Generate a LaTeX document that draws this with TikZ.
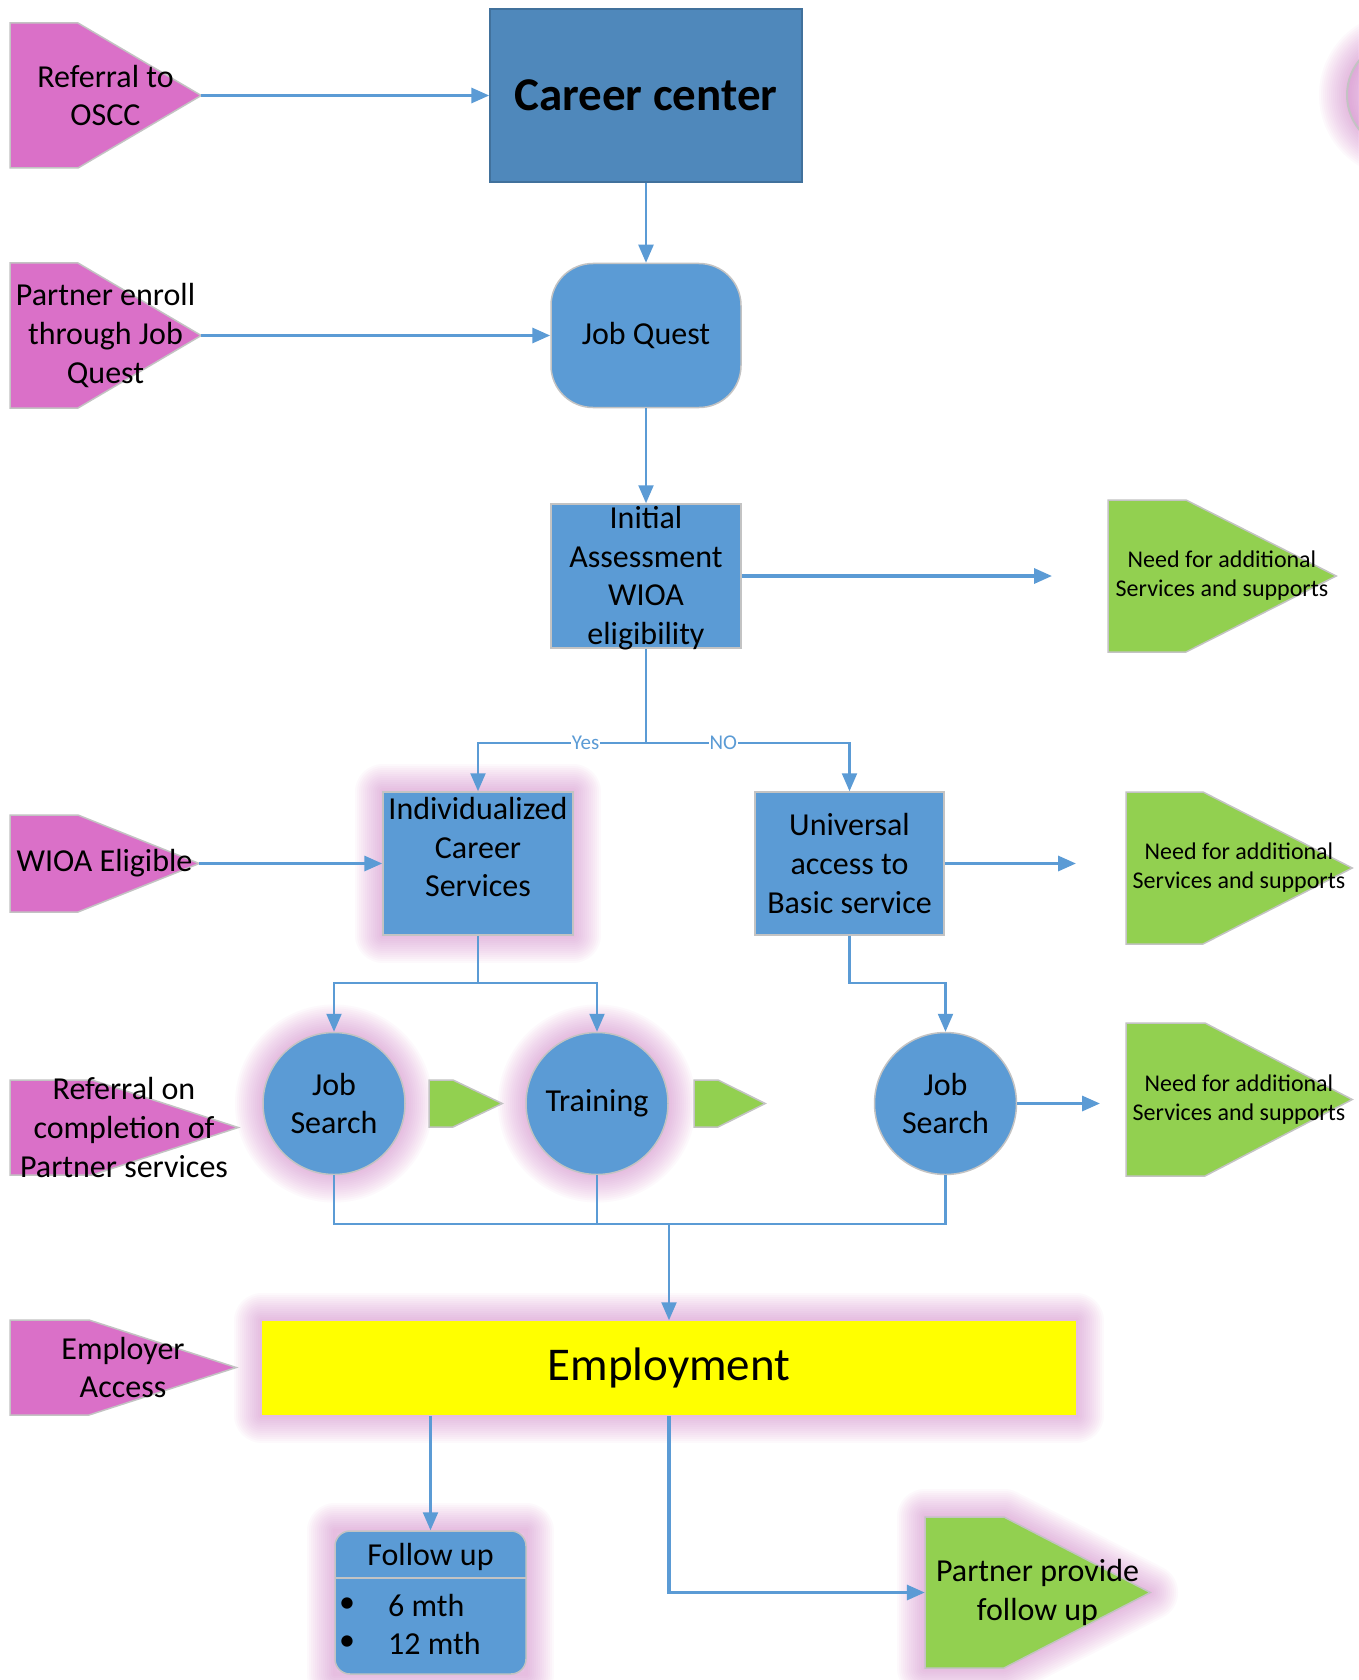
\documentclass[tikz,border=0pt]{standalone}
\usepackage{fontspec}
\setmainfont{Carlito}
\usetikzlibrary{arrows.meta,calc}

\definecolor{cblue}{RGB}{91,155,213}
\definecolor{cdark}{RGB}{79,136,187}
\definecolor{cdarkline}{RGB}{65,113,156}
\definecolor{cpink}{RGB}{218,112,200}
\definecolor{cgreen}{RGB}{146,208,80}
\definecolor{cyell}{RGB}{255,255,0}
\definecolor{cglow}{RGB}{210,125,200}
\definecolor{cedge}{RGB}{195,195,195}

\pgfdeclarelayer{backlayer}
\pgfdeclarelayer{glowlayer}
\pgfdeclarelayer{shapelayer}
\pgfsetlayers{backlayer,glowlayer,shapelayer,main}

\newcommand\fsN{\fontsize{32}{38.6}\selectfont}
\newcommand\fsS{\fontsize{24}{29}\selectfont}
\newcommand\fsY{\fontsize{21}{25}\selectfont}
\newcommand\fsBig{\fontsize{47}{56}\selectfont}

\tikzset{
  box/.style={draw=cedge, line width=1.5pt, fill=cblue, inner sep=0pt, align=center, font=\fsN},
  txt/.style={inner sep=0pt, align=center, font=\fsN},
  pentnode/.style={inner sep=0pt, align=center, font=\fsN},
  circ/.style={circle, draw=cedge, line width=1.5pt, fill=cblue, inner sep=0pt, minimum size=142pt, align=center, font=\fsN},
  conn/.style={draw=cblue, line width=2.2pt},
  arr/.style={conn, -{Triangle[length=18pt,width=15pt]}},
  thickarr/.style={arr, line width=3.2pt},
  ynlabel/.style={fill=white, inner sep=1pt, text=cblue, font=\fsY},
}

% glow around a path
\newcommand\glowpath[1]{%
  \begin{pgfonlayer}{glowlayer}
    \foreach \w in {4,8,...,56}{\draw[cglow, draw opacity=0.045, line width=\w pt, line join=round] #1;}
  \end{pgfonlayer}}

% pentagon: name, x1, y1, x2, y2, offset, fill, text, font
\newcommand\pent[9]{%
  \node[pentnode, font=#9, minimum width={(#4-#2)*1pt}, minimum height={(#5-#3)*1pt}] (#1) at ({(#2+#4)/2},{(#3+#5)/2}) {#8};
  \begin{pgfonlayer}{shapelayer}
    \filldraw[fill=#7, draw=cedge, line width=1.5pt, line join=miter] (#2,#3) -- (#2+#6,#3) -- (#1.east) -- (#2+#6,#5) -- (#2,#5) -- cycle;
  \end{pgfonlayer}}

\begin{document}
\begin{tikzpicture}[x=1pt,y=-1pt]
\begin{pgfonlayer}{backlayer}
  \fill[white] (0,0) rectangle (1358,1680);
\end{pgfonlayer}
\useasboundingbox (0,0) rectangle (1358,1680);

% glows
\glowpath{(383,792) rectangle (573,935)}
\glowpath{(334,1103.5) circle[radius=71pt]}
\glowpath{(597,1103.5) circle[radius=71pt]}
\glowpath{(262,1321) rectangle (1076,1415)}
\glowpath{(335,1531) rectangle (526,1674)}
\glowpath{(925,1517) -- (1004,1517) -- (1150,1592.5) -- (1004,1668) -- (925,1668) -- cycle}
\glowpath{(1402,95) circle[radius=55pt]}
\begin{pgfonlayer}{glowlayer}
  \fill[cglow, opacity=0.3] (1402,95) circle[radius=55pt];
\end{pgfonlayer}
\draw[cedge, line width=2pt] (1402,95) circle[radius=55pt];

% main boxes
\node[box, fill=cdark, draw=cdarkline, minimum width=312pt, minimum height=173pt, font=\fsBig\bfseries] (career) at (646,95.5) {Career center};
\node[box, rounded corners=42pt, minimum width=190pt, minimum height=144pt] (jq) at (646,335.5) {Job Quest};
\node[box, minimum width=190pt, minimum height=144pt] (ia) at (646,576) {};
\node[txt] (iaT) at (646,578) {Initial\\Assessment\\WIOA\\eligibility};
\node[box, minimum width=190pt, minimum height=143pt] (indiv) at (478,863.5) {};
\node[txt] (indivT) at (478,847) {Individualized\\Career\\Services};
\node[box, minimum width=189pt, minimum height=143pt] (univ) at (849.5,863.5) {Universal\\access to\\Basic service};
\node[circ] (js1) at (334,1103.5) {Job\\Search};
\node[circ] (train) at (597,1103.5) {Training};
\node[circ] (js2) at (945.5,1103.5) {Job\\Search};
\node[box, fill=cyell, draw=none, minimum width=814pt, minimum height=94pt, font=\fsBig] (employ) at (669,1368) {Employment};
\node[box, rounded corners=15pt, minimum width=191pt, minimum height=143pt] (follow) at (430.5,1602.5) {};
\draw[cedge, line width=2pt] ($(follow.north west)+(1,48)$) -- ($(follow.north east)+(-1,48)$);
\node[txt] (fuH) at (430.5,1557) {Follow up};
\node[txt] (b1) at (347,1605) {\textbullet};
\node[txt] (b2) at (347,1643) {\textbullet};
\node[txt, anchor=west] (m6) at (388,1605) {6 mth};
\node[txt, anchor=west] (m12) at (388,1643) {12 mth};

% pentagons
\pent{oscc}{10}{23}{201}{168}{68}{cpink}{Referral to\\OSCC}{\fsN}
\pent{penr}{10}{263}{201}{408}{68}{cpink}{Partner enroll\\through Job\\Quest}{\fsN}
\pent{wioa}{10}{815}{199}{912}{68}{cpink}{WIOA Eligible}{\fsN}
\pent{refc}{10}{1080}{238}{1175}{82}{cpink}{Referral on\\completion of\\Partner services}{\fsN}
\pent{empa}{10}{1320}{236}{1415}{79}{cpink}{Employer\\Access}{\fsN}
\pent{need1}{1108}{500}{1336}{652}{78}{cgreen}{Need for additional\\Services and supports}{\fsS}
\pent{need2}{1126}{792}{1352}{944}{77}{cgreen}{Need for additional\\Services and supports}{\fsS}
\pent{need3}{1126}{1023}{1352}{1176}{79}{cgreen}{Need for additional\\Services and supports}{\fsS}
\pent{g1}{429}{1080}{502}{1127}{24}{cgreen}{}{\fsN}
\pent{g2}{694}{1080}{765}{1127}{24}{cgreen}{}{\fsN}
\pent{ppf}{925}{1517}{1150}{1668}{79}{cgreen}{Partner provide\\follow up}{\fsN}

% connectors
\coordinate (e1) at (1052,576);
\coordinate (e2) at (1076,863.5);
\coordinate (e3) at (1100,1103.5);
\coordinate (split) at (646,743);
\coordinate (fork1) at (478,983);
\coordinate (fork2) at (849.5,983);
\coordinate (merge) at (669,1224);

\draw[thickarr] (oscc.east) -- (career.west);
\draw[arr] (career.south) -- (jq.north);
\draw[thickarr] (penr.east) -- (jq.west);
\draw[arr] (jq.south) -- (ia.north);
\draw[thickarr] (ia.east) -- (e1);
\draw[conn] (ia.south) -- (split);
\draw[arr] (split) -| node[ynlabel, pos=0.18] (yes) {Yes} (indiv.north);
\draw[arr] (split) -| node[ynlabel, pos=0.19] (no) {NO} (univ.north);
\draw[thickarr] (wioa.east) -- (indiv.west);
\draw[thickarr] (univ.east) -- (e2);
\draw[conn] (indiv.south) -- (fork1);
\draw[arr] (fork1) -| (js1.north);
\draw[arr] (fork1) -| (train.north);
\draw[arr] (univ.south) -- (fork2) -| (js2.north);
\draw[thickarr] (js2.east) -- (e3);
\draw[conn] (js1.south) -- (js1.south |- merge) -- (js2.south |- merge) -- (js2.south);
\draw[conn] (train.south) -- (train.south |- merge);
\draw[arr] (merge) -- (employ.north);
\draw[arr] (follow.north |- employ.south) -- (follow.north);
\draw[thickarr] (employ.south) |- (ppf.west);
\end{tikzpicture}
\end{document}
